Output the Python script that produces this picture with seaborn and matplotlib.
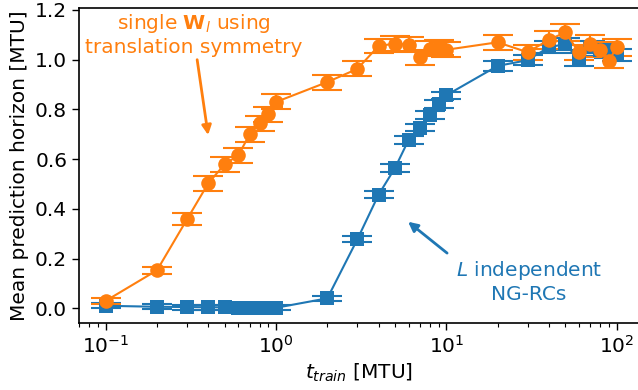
import numpy as np
import pandas as pd
import matplotlib
matplotlib.use("Agg")
import matplotlib.pyplot as plt
import seaborn as sns

# Training times [MTU]
t_train = [0.1, 0.2, 0.3, 0.4, 0.5, 0.6, 0.7, 0.8, 0.9, 1.0,
           2, 3, 4, 5, 6, 7, 8, 9, 10,
           20, 30, 40, 50, 60, 70, 80, 90, 100]

# Mean prediction horizon, single W_l with translation symmetry
single_mean = [0.03, 0.153, 0.358, 0.503, 0.58, 0.615, 0.70, 0.745, 0.78, 0.83,
               0.91, 0.963, 1.055, 1.065, 1.06, 1.01, 1.045, 1.05, 1.04,
               1.07, 1.03, 1.08, 1.11, 1.03, 1.065, 1.04, 0.995, 1.05]
single_err = [0.012, 0.015, 0.025, 0.03, 0.03, 0.03, 0.03, 0.03, 0.03, 0.03,
              0.03, 0.03, 0.03, 0.03, 0.03, 0.03, 0.03, 0.03, 0.03,
              0.03, 0.03, 0.035, 0.035, 0.03, 0.035, 0.03, 0.03, 0.035]

# Mean prediction horizon, L independent NG-RCs
indep_mean = [0.01, 0.006, 0.005, 0.004, 0.004, 0.003, 0.002, 0.002, 0.002, 0.002,
              0.04, 0.277, 0.457, 0.565, 0.677, 0.727, 0.777, 0.822, 0.857,
              0.975, 0.998, 1.05, 1.063, 1.0, 1.05, 1.04, 1.03, 1.02]
indep_err = [0.01, 0.01, 0.01, 0.01, 0.01, 0.01, 0.01, 0.01, 0.01, 0.01,
             0.01, 0.012, 0.015, 0.015, 0.015, 0.015, 0.015, 0.015, 0.015,
             0.02, 0.02, 0.025, 0.025, 0.025, 0.025, 0.025, 0.025, 0.025]

sns.set_style("ticks")
plt.rcParams["font.family"] = ["DejaVu Sans"]
plt.rcParams["mathtext.fontset"] = "dejavusans"
for key in ["text.color", "axes.labelcolor", "xtick.color", "ytick.color", "axes.edgecolor"]:
    plt.rcParams[key] = "black"

blue, orange = "#1f77b4", "#ff7f0e"
fs = 14.5

df = pd.DataFrame({
    "t": t_train * 2,
    "h": indep_mean + single_mean,
    "err": indep_err + single_err,
    "model": ["indep"] * len(t_train) + ["single"] * len(t_train),
})

fig = plt.figure(figsize=(6.38, 3.90), dpi=100)
ax = fig.add_axes([0.1238, 0.1726, 0.8792, 0.8069])

for name, color, marker, ms in [("indep", blue, "s", 9.5), ("single", orange, "o", 10.5)]:
    sub = df[df["model"] == name]
    ax.errorbar(sub["t"], sub["h"], yerr=sub["err"], fmt="none",
                ecolor=color, elinewidth=1.5, capsize=11, capthick=1.5, zorder=2)
    sns.lineplot(data=sub, x="t", y="h", ax=ax, color=color, marker=marker,
                 markersize=ms, markeredgewidth=0, linewidth=1.5,
                 estimator=None, sort=False, zorder=3)

ax.set_xscale("log")
ax.set_xlim(0.0696, 137)
ax.set_ylim(-0.058, 1.208)
ax.set_yticks([0.0, 0.2, 0.4, 0.6, 0.8, 1.0, 1.2])
ax.tick_params(axis="both", which="major", labelsize=fs, length=5, width=1)
ax.tick_params(axis="both", which="minor", length=3, width=0.8)
for s in ax.spines.values():
    s.set_linewidth(1.2)

ax.set_xlabel(r"$t_{train}$ [MTU]", fontsize=fs)
ax.set_ylabel("Mean prediction horizon [MTU]", fontsize=fs)

ax.text(0.328, 1.101, "single $\\mathbf{W}_l$ using\ntranslation symmetry",
        ha="center", va="center", color=orange, fontsize=fs)
ax.annotate("", xy=(0.399, 0.697), xytext=(0.344, 1.0),
            arrowprops=dict(arrowstyle="-|>", color=orange, lw=2,
                            mutation_scale=14, shrinkA=0, shrinkB=0))

ax.text(30.6, 0.108, "$L$ independent\nNG-RCs",
        ha="center", va="center", color=blue, fontsize=fs)
ax.annotate("", xy=(5.96, 0.348), xytext=(10.1, 0.222),
            arrowprops=dict(arrowstyle="-|>", color=blue, lw=2,
                            mutation_scale=14, shrinkA=0, shrinkB=0))

fig.savefig("out.png", dpi=100)
